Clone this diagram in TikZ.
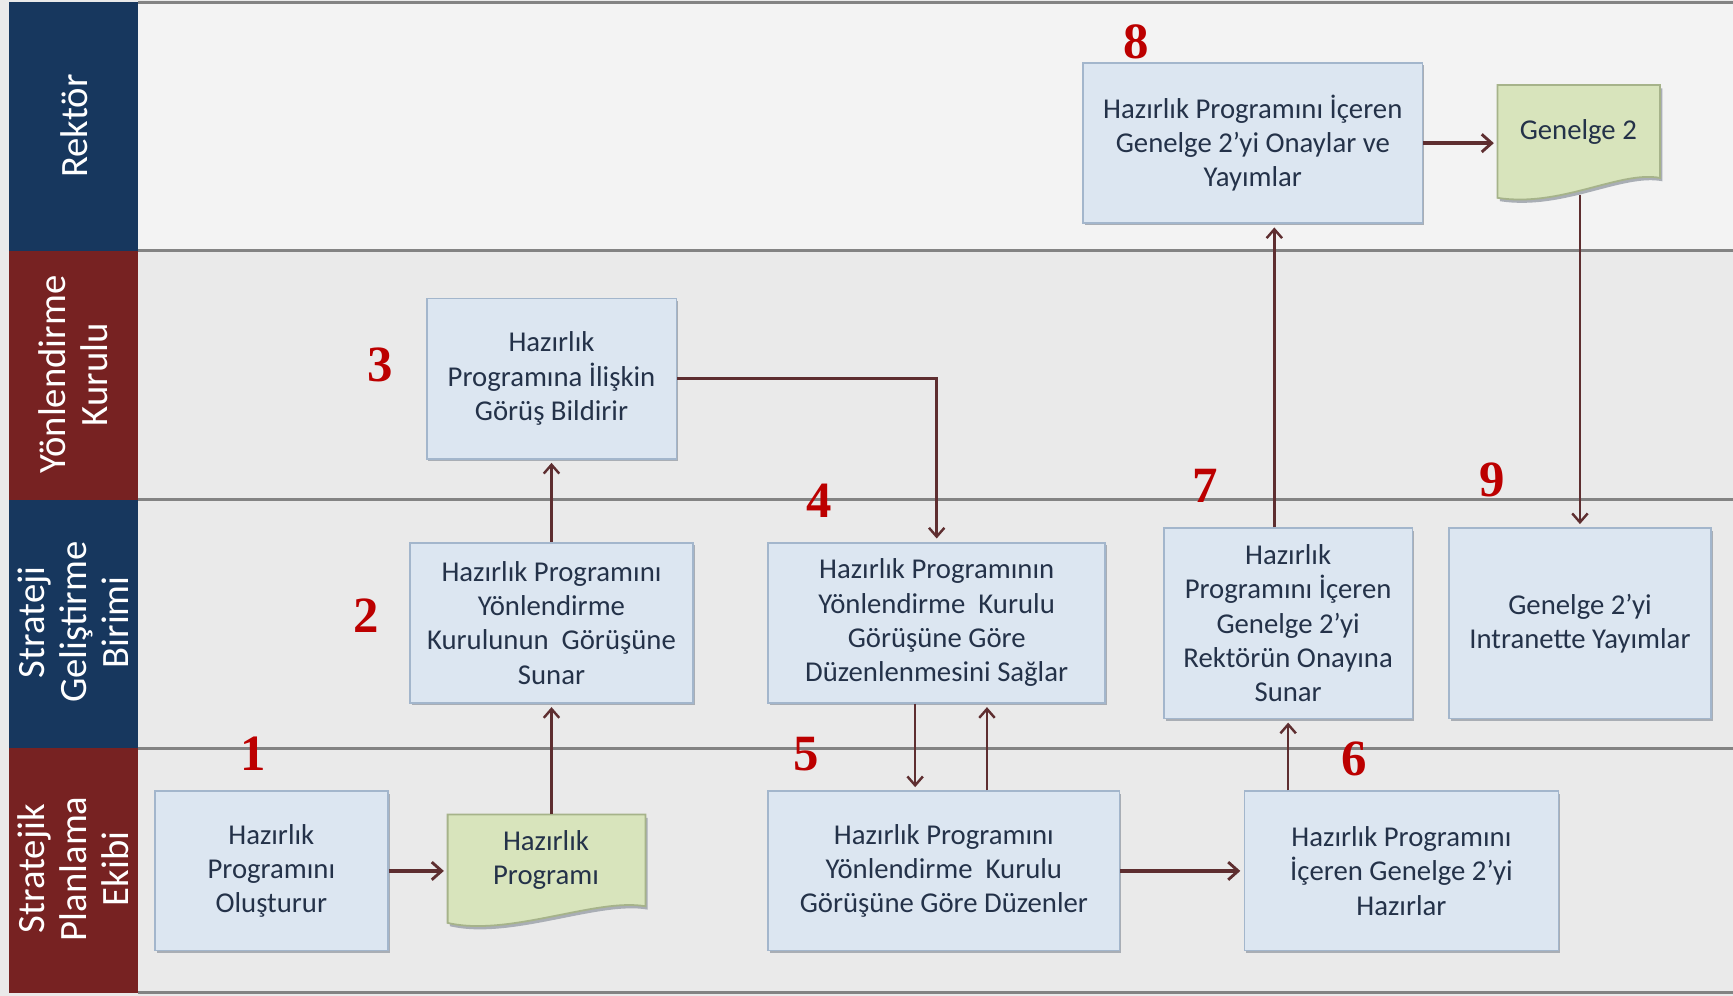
\documentclass[tikz,border=0pt]{standalone}
\usepackage{fontspec}
\setmainfont{Carlito}
\newfontfamily\numfont{Liberation Serif}
\usetikzlibrary{arrows.meta}

\definecolor{navyhead}{HTML}{17375E}
\definecolor{redhead}{HTML}{772222}
\definecolor{boxfill}{HTML}{DCE6F1}
\definecolor{boxline}{HTML}{A3B6CC}
\definecolor{boxshade}{HTML}{A9AEB5}
\definecolor{docfill}{HTML}{D8E4BC}
\definecolor{docline}{HTML}{A6B38A}
\definecolor{boxtext}{HTML}{243249}
\definecolor{flow}{HTML}{5E2E30}
\definecolor{lanebg}{HTML}{EAEAEA}
\definecolor{toplane}{HTML}{F3F3F3}
\definecolor{laneline}{HTML}{838383}
\definecolor{stepred}{HTML}{BC0000}

\begin{document}
\begin{tikzpicture}[x=0.5pt,y=-0.5pt,
  task/.style={draw=boxline, fill=boxfill, line width=0.8pt, text=boxtext,
    align=center, font=\fontsize{13}{15.5}\selectfont, inner sep=2pt,
    preaction={fill=boxshade, draw=none, transform canvas={shift={(0.8pt,-1pt)}}}},
  docbody/.style={draw=docline, fill=docfill, line width=0.8pt},
  docanchor/.style={draw=none, inner sep=0pt},
  doclabel/.style={text=boxtext, align=center, font=\fontsize{13}{15.5}\selectfont},
  lanehead/.style={text=white, align=center, rotate=90,
    font=\fontsize{17.5}{19}\selectfont},
  stepno/.style={text=stepred, font=\numfont\bfseries\fontsize{23}{23}\selectfont},
  flowline/.style={draw=flow, line width=1.1pt, shorten >=1.5pt,
    -{Straight Barb[length=4pt,width=7pt,line width=1.1pt]}},
  thickflow/.style={flowline, line width=2pt,
    -{Straight Barb[length=4.5pt,width=8pt,line width=1.3pt]}}
]
\useasboundingbox (0,0) rectangle (1568,901);

% lanes
\fill[lanebg] (0,0) rectangle (1568,901);
\fill[toplane] (125,2) rectangle (1568,227);
\foreach \yy in {2,227,452,677,898}
  \draw[laneline, line width=1.3pt] (125,\yy) -- (1568,\yy);

% lane headers
\fill[navyhead] (8,2) rectangle (125,227);
\fill[redhead] (8,227) rectangle (125,452);
\fill[navyhead] (8,452) rectangle (125,677);
\fill[redhead] (8,677) rectangle (125,898);
\node[lanehead] (hrek) at (67,114) {Rektör};
\node[lanehead] (hyon) at (66,339) {Yönlendirme\\Kurulu};
\node[lanehead] (hsgb) at (66,563) {Strateji\\Geliştirme\\Birimi};
\node[lanehead] (hspe) at (66,786) {Stratejik\\Planlama\\Ekibi};

% process boxes
\node[task, minimum width=105.5pt, minimum height=72pt] (b1) at (245.5,788)
  {Hazırlık\\Programını\\Oluşturur};
\node[task, minimum width=128pt, minimum height=72.5pt] (b2) at (499,563.5)
  {Hazırlık Programını\\Yönlendirme\\Kurulunun~ Görüşüne\\Sunar};
\node[task, minimum width=113pt, minimum height=72.5pt] (b3) at (499,342.5)
  {Hazırlık\\Programına İlişkin\\Görüş Bildirir};
\node[task, minimum width=152.5pt, minimum height=72.5pt] (b4) at (847.5,563.5)
  {Hazırlık Programının\\Yönlendirme~ Kurulu\\Görüşüne Göre\\Düzenlenmesini Sağlar};
\node[task, minimum width=159pt, minimum height=72pt] (b5) at (854,788)
  {Hazırlık Programını\\Yönlendirme~ Kurulu\\Görüşüne Göre Düzenler};
\node[task, minimum width=142pt, minimum height=72pt] (b6) at (1268,788)
  {Hazırlık Programını\\İçeren Genelge 2’yi\\Hazırlar};
\node[task, minimum width=112.5pt, minimum height=86pt] (b7) at (1165.5,564)
  {Hazırlık\\Programını İçeren\\Genelge 2’yi\\Rektörün Onayına\\Sunar};
\node[task, minimum width=153.5pt, minimum height=72.5pt] (b8) at (1133.5,129.5)
  {Hazırlık Programını İçeren\\Genelge 2’yi Onaylar ve\\Yayımlar};
\node[task, minimum width=118.5pt, minimum height=86pt] (b9) at (1429.5,564)
  {Genelge 2’yi\\Intranette Yayımlar};

% documents
\fill[boxshade] (407,740) -- (586,740) -- (586,823)
  .. controls (542,815) and (462,851) .. (407,838) -- cycle;
\draw[docbody] (405,737) -- (584,737) -- (584,820)
  .. controls (540,812) and (460,848) .. (405,835) -- cycle;
\node[docanchor, minimum width=89.5pt, minimum height=49.5pt] (hp) at (494.5,786) {};
\node[doclabel] (hptext) at (494,778) {Hazırlık\\Programı};

\fill[boxshade] (1357,80) -- (1504,80) -- (1504,164)
  .. controls (1468,157) and (1414,191) .. (1357,182) -- cycle;
\draw[docbody] (1355,77) -- (1502,77) -- (1502,161)
  .. controls (1466,154) and (1412,188) .. (1355,179) -- cycle;
\node[docanchor, minimum width=73.5pt, minimum height=49.5pt] (g2) at (1428.5,126.5) {};
\node[doclabel] (g2text) at (1428,119) {Genelge 2};

% connectors
\draw[thickflow] (b1.east) -- (b1.east -| hp.west);
\draw[flowline] (b2.south |- hp.north) -- (b2.south);
\draw[flowline] (b2.north) -- (b3.south);
\draw[flowline] (b3.east) -| (b4.north);
\draw[flowline] ([xshift=-9.75pt]b4.south) -- ([xshift=-9.75pt]b4.south |- b5.north);
\draw[flowline] ([xshift=22.75pt]b4.south |- b5.north) -- ([xshift=22.75pt]b4.south);
\draw[thickflow] (b5.east) -- (b6.west);
\draw[flowline] (b7.south |- b6.north) -- (b7.south);
\draw[flowline] ([xshift=-6.25pt]b7.north) -- ([xshift=-6.25pt]b7.north |- b8.south);
\draw[thickflow] (b8.east) -- (b8.east -| g2.west);
\draw[flowline] (b9.north |- g2.south) -- (b9.north);

% step numbers
\node[stepno] (n1) at (229,682) {1};
\node[stepno] (n2) at (331,557) {2};
\node[stepno] (n3) at (344,330) {3};
\node[stepno] (n4) at (741,453) {4};
\node[stepno] (n5) at (729,682) {5};
\node[stepno] (n6) at (1225,687) {6};
\node[stepno] (n7) at (1090,440) {7};
\node[stepno] (n8) at (1028,38) {8};
\node[stepno] (n9) at (1350,434) {9};
\end{tikzpicture}
\end{document}
